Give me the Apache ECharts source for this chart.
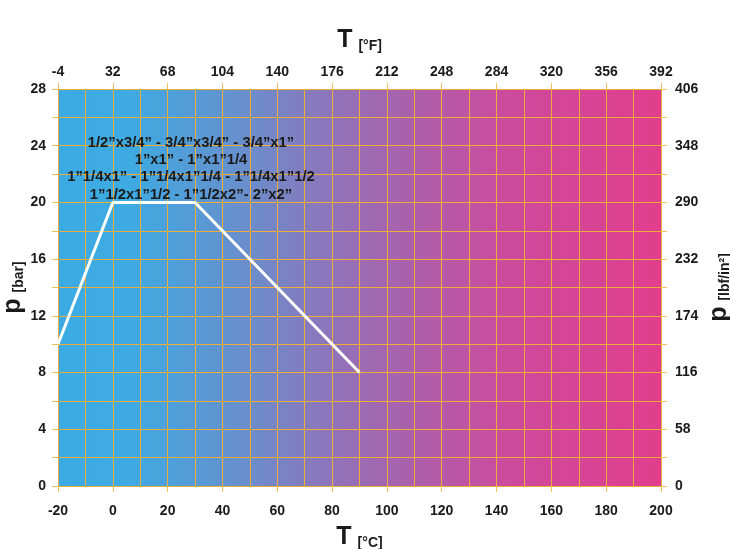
<!DOCTYPE html>
<html><head><meta charset="utf-8">
<script src="https://cdn.jsdelivr.net/npm/echarts@6/dist/echarts.min.js"></script>
<style>html,body{margin:0;padding:0;background:#fff}#c{width:730px;height:549px}</style>
</head><body><div id="c"></div>
<script>
// Data
var tempC = [-20, 0, 30, 90];
var pressureBar = [10, 20, 20, 8];
var fahrenheitLabels = ['-4','32','68','104','140','176','212','248','284','320','356','392'];
var psiTicks = [0, 58, 116, 174, 232, 290, 348, 406];
var noteLines = [
  '1/2\u201Dx3/4\u201D - 3/4\u201Dx3/4\u201D - 3/4\u201Dx1\u201D',
  '1\u201Dx1\u201D - 1\u201Dx1\u201D1/4',
  '1\u201D1/4x1\u201D - 1\u201D1/4x1\u201D1/4 - 1\u201D1/4x1\u201D1/2',
  '1\u201D1/2x1\u201D1/2 - 1\u201D1/2x2\u201D- 2\u201Dx2\u201D'
];

var FONT = '"Liberation Sans", Arial, Helvetica, sans-serif';
var gridColor = '#eeac38';
var tickColor = '#f3c15a';
var labelStyle = {color:'#1a1a1a', fontFamily:FONT, fontWeight:'bold', fontSize:14};

var chart = echarts.init(document.getElementById('c'), null, {renderer:'canvas'});

var graphics = noteLines.map(function(t, i){
  return {type:'text', x: 191, y: 143 + i*17.2, z: 100,
    style:{text:t, x:0, y:0, textAlign:'center', textVerticalAlign:'middle',
      fill:'#1a1a1a', font:'bold 14.8px ' + FONT}};
});

function rich(){
  return {
    big:{fontSize:25, fontWeight:'bold', fontFamily:FONT, color:'#1a1a1a', verticalAlign:'bottom', lineHeight:26},
    small:{fontSize:14, fontWeight:'bold', fontFamily:FONT, color:'#1a1a1a', verticalAlign:'bottom', lineHeight:22, padding:[0,0,0,6]}
  };
}

chart.setOption({
  animation:false,
  grid:{left:58, right:69, top:89, bottom:63, containLabel:false, outerBoundsMode:'none', show:true, borderWidth:0,
    backgroundColor:{type:'linear', x:0, y:0, x2:1, y2:0, colorStops:[
      {offset:0, color:'#3cabe3'},
      {offset:0.12, color:'#3eaae2'},
      {offset:0.3, color:'#6790cd'},
      {offset:0.5, color:'#9a6cb4'},
      {offset:0.75, color:'#cd4a9c'},
      {offset:1, color:'#e13e8d'}
    ]}},
  graphic: graphics,
  xAxis:[
    {type:'value', position:'bottom', min:-20, max:200, interval:20,
      name:'{big|T}{small|[°C]}', nameLocation:'middle', nameGap:38,
      nameTextStyle:{rich:rich()},
      axisLine:{show:true, onZero:false, lineStyle:{color:gridColor, width:1}},
      axisTick:{show:true, length:6, lineStyle:{color:tickColor}},
      axisLabel:Object.assign({margin:18}, labelStyle),
      splitLine:{show:true, lineStyle:{color:gridColor, width:1}},
      minorTick:{show:false, splitNumber:2},
      minorSplitLine:{show:true, lineStyle:{color:gridColor, width:1}}
    },
    {type:'value', position:'top', min:-20, max:200, interval:20,
      name:'{big|T}{small|[°F]}', nameLocation:'middle', nameGap:36,
      nameTextStyle:{rich:rich()},
      axisLine:{show:true, onZero:false, lineStyle:{color:gridColor, width:1}},
      axisTick:{show:true, length:6, lineStyle:{color:tickColor}},
      axisLabel:Object.assign({margin:10, formatter:function(v){return fahrenheitLabels[Math.round((v+20)/20)];}}, labelStyle),
      splitLine:{show:false}
    }
  ],
  yAxis:[
    {type:'value', position:'left', min:0, max:28, interval:4,
      name:'{big|p}{small|[bar]}', nameLocation:'middle', nameGap:32, nameRotate:90, nameMoveOverlap:false,
      nameTextStyle:{rich:rich()},
      axisLine:{show:true, onZero:false, lineStyle:{color:gridColor, width:1}},
      axisTick:{show:true, length:6, lineStyle:{color:tickColor}},
      minorTick:{show:true, splitNumber:2, length:6, lineStyle:{color:tickColor}},
      axisLabel:Object.assign({margin:12}, labelStyle),
      splitLine:{show:true, lineStyle:{color:gridColor, width:1}},
      minorSplitLine:{show:true, lineStyle:{color:gridColor, width:1}}
    },
    {type:'value', position:'right', min:psiTicks[0], max:psiTicks[psiTicks.length-1], interval:58,
      name:'{big|p}{small|[lbf/in²]}', nameLocation:'middle', nameGap:45, nameRotate:90, nameMoveOverlap:false,
      nameTextStyle:{rich:rich()},
      axisLine:{show:true, onZero:false, lineStyle:{color:gridColor, width:1}},
      axisTick:{show:true, length:6, lineStyle:{color:tickColor}},
      minorTick:{show:true, splitNumber:2, length:6, lineStyle:{color:tickColor}},
      axisLabel:Object.assign({margin:14}, labelStyle),
      splitLine:{show:false}
    }
  ],
  series:[{
    type:'line', xAxisIndex:0, yAxisIndex:0,
    data: tempC.map(function(t,i){return [t, pressureBar[i]];}),
    symbol:'none', lineStyle:{color:'#ffffff', width:3}, z:10
  }]
});
</script></body></html>
